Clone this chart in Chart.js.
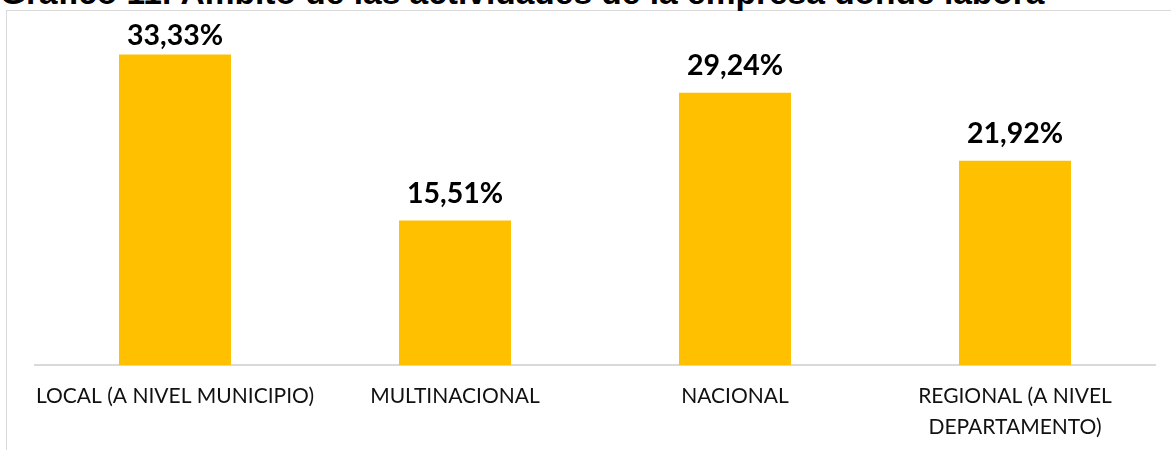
<!DOCTYPE html>
<html><head><meta charset="utf-8">
<script src="https://cdn.jsdelivr.net/npm/chart.js@4"></script>
<style>
html,body{margin:0;padding:0;background:#fff;overflow:hidden;width:1171px;height:450px}
#wrap{position:relative;width:1171px;height:450px;overflow:hidden}
#title{position:absolute;left:0;top:-26px;font:bold 33.5px "Liberation Sans",Arial,sans-serif;color:#000;white-space:nowrap;line-height:38px}
#frame{position:absolute;left:6px;top:10px;width:1200px;height:500px;border:1px solid #d9d9d9;box-sizing:border-box}
canvas{position:absolute;left:0;top:0}
</style></head>
<body>
<div id="wrap">
  <div id="frame"></div>
  <div id="title">Gráfico 11. Ámbito de las actividades de la empresa donde labora</div>
  <canvas id="c" width="1171" height="450"></canvas>
</div>
<script>
const categories = ['LOCAL (A NIVEL MUNICIPIO)', 'MULTINACIONAL', 'NACIONAL', ['REGIONAL (A NIVEL', 'DEPARTAMENTO)']];
const values = [33.33, 15.51, 29.24, 21.92];

const fmt = v => v.toFixed(2).replace('.', ',') + '%';

const valueLabels = {
  id: 'valueLabels',
  afterDatasetsDraw(chart) {
    const ctx = chart.ctx;
    const meta = chart.getDatasetMeta(0);
    ctx.save();
    ctx.font = 'bold 28.5px Lato, "Open Sans", sans-serif';
    ctx.fillStyle = '#000';
    ctx.textAlign = 'center';
    ctx.textBaseline = 'alphabetic';
    meta.data.forEach((bar, i) => {
      const y = Math.max(bar.y - 18, chart.chartArea.top + 6);
      ctx.fillText(fmt(values[i]), bar.x, y);
    });
    ctx.restore();
  }
};

new Chart(document.getElementById('c'), {
  type: 'bar',
  data: {
    labels: categories,
    datasets: [{
      data: values,
      backgroundColor: '#FFC000',
      borderWidth: 0,
      barPercentage: 0.4,
      categoryPercentage: 1.0
    }]
  },
  options: {
    responsive: false,
    animation: false,
    layout: { padding: { left: 35, right: 16, top: 39, bottom: 0 } },
    plugins: { legend: { display: false }, tooltip: { enabled: false }, title: { display: false } },
    scales: {
      x: {
        grid: { display: false, drawTicks: false },
        border: { display: true, color: '#d9d9d9', width: 2 },
        ticks: {
          color: '#111',
          padding: 16,
          maxRotation: 0,
          autoSkip: false,
          font: { family: 'Lato', size: 21, lineHeight: 1.48 }
        },
        afterFit(scale) { scale.height = 85; }
      },
      y: { display: false, min: 0, max: 35 }
    }
  },
  plugins: [valueLabels]
});
</script>
</body></html>
